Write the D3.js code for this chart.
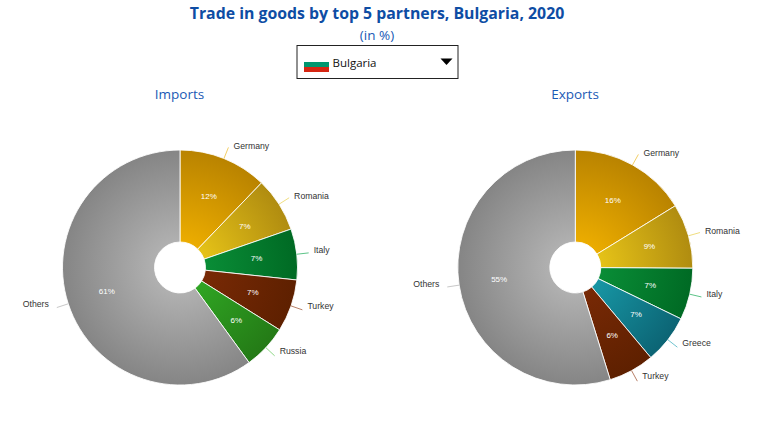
<!DOCTYPE html>
<html><head><meta charset="utf-8">
<script src="https://cdn.jsdelivr.net/npm/d3@7"></script>
<style>html,body{margin:0;padding:0;background:#fff;overflow:hidden}svg{display:block}</style>
</head><body><svg id="c" width="768" height="421"></svg>
<script>
const importPartners = ["Germany","Romania","Italy","Turkey","Russia","Others"];
const importValues = [12.2,7.5,7.0,7.2,6.1,60.0];
const importLabels = ["12%","7%","7%","7%","6%","61%"];
const exportPartners = ["Germany","Romania","Italy","Greece","Turkey","Others"];
const exportValues = [16.2,8.9,7.1,6.7,6.3,54.8];
const exportLabels = ["16%","9%","7%","7%","6%","55%"];
const partnerColors = {
 Germany:["#f0b000","#b98300","#f3cf66"],
 Romania:["#eac718","#b08c10","#f0de80"],
 Italy:["#0a9038","#006a24","#5cc488"],
 Turkey:["#7a2a06","#5e2000","#b88068"],
 Russia:["#30a824","#247a16","#90d888"],
 Greece:["#189aa8","#0c6474","#70c4d0"],
 Others:["#b4b4b4","#858585","#c8c8c8"]
};
const svg=d3.select("#c");
const defs=svg.append("defs");
const blue="#0e4da4", blue2="#1a5ab5";
function text(x,y,s,size,fill,weight,family,anchor){
 return svg.append("text").attr("x",x).attr("y",y).text(s).attr("font-size",size).attr("fill",fill)
  .attr("font-weight",weight||400).attr("font-family",family||"'Open Sans'").attr("text-anchor",anchor||"middle");
}
text(377,19,"Trade in goods by top 5 partners, Bulgaria, 2020",15.85,blue,700);
text(377,40,"(in %)",13.5,blue2);
text(179.5,99,"Imports",13.5,blue2);
text(575,99,"Exports",13.5,blue2);
// dropdown
svg.append("rect").attr("x",297).attr("y",45.5).attr("width",161).attr("height",33).attr("fill","#fff").attr("stroke","#222").attr("stroke-width",1);
const flag=[["#fff",59,3],["#00966e",62,5],["#d62612",67,5]];
flag.forEach(f=>svg.append("rect").attr("x",304).attr("y",f[1]).attr("width",25).attr("height",f[2]).attr("fill",f[0]));
text(332.5,66.5,"Bulgaria",11.5,"#111",400,null,"start");
svg.append("path").attr("d","M440.5 58.5h12l-6 6.5z").attr("fill","#000");

const labelShift=d3.scaleLinear().domain([-70,0,130]).range([0,-1.5,-4]).clamp(true);
function pie(id,cx,cy,names,values,labels){
 const R=117.5,r0=25.5,lineR=R+12,pctR=77;
 const g=svg.append("g").attr("transform",`translate(${cx},${cy})`);
 const arcs=d3.pie().sort(null).value((d,i)=>values[i])(names);
 const arc=d3.arc().innerRadius(r0).outerRadius(R);
 const labelArc=d3.arc().innerRadius(pctR).outerRadius(pctR);
 arcs.forEach((a,i)=>{
  const n=names[i],c=partnerColors[n],gid=`${id}${i}`;
  const gr=defs.append("radialGradient").attr("id",gid).attr("gradientUnits","userSpaceOnUse").attr("cx",0).attr("cy",0).attr("r",R);
  gr.append("stop").attr("offset",0.15).attr("stop-color",c[0]);
  gr.append("stop").attr("offset",1).attr("stop-color",c[1]);
  g.append("path").attr("d",arc(a)).attr("fill",`url(#${gid})`).attr("stroke","#fff").attr("stroke-width",1).attr("stroke-opacity",.85);
 });
 arcs.forEach((a,i)=>{
  const n=names[i],c=partnerColors[n];
  const m=(a.startAngle+a.endAngle)/2,sx=Math.sin(m),cy_=-Math.cos(m);
  const p1=[sx*R,cy_*R],p2=[sx*lineR,cy_*lineR];
  const right=sx>=0;
  g.append("path").attr("d",d3.line()([p1,p2])).attr("fill","none").attr("stroke",c[2]).attr("stroke-width",1);
  g.append("text").attr("x",p2[0]+(right?5:-8)).attr("y",p2[1]+1.7+labelShift(p2[1])).attr("text-anchor",right?"start":"end")
   .attr("font-family","'Liberation Sans'").attr("font-size",8.7).attr("fill","#333").text(n);
  const l=labelArc.centroid(a);
  g.append("text").attr("x",l[0]).attr("y",l[1]+2.5).attr("text-anchor","middle")
   .attr("font-family","'Liberation Sans'").attr("font-size",8).attr("fill","#fff").text(labels[i]);
 });
}
pie("imp",180,267.5,importPartners,importValues,importLabels);
pie("exp",575.3,267.5,exportPartners,exportValues,exportLabels);
</script></body></html>
